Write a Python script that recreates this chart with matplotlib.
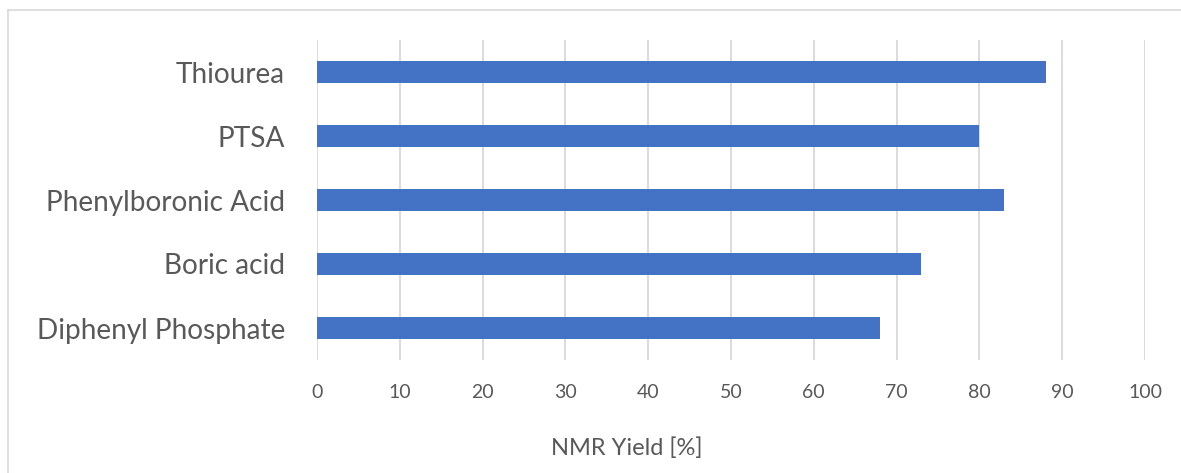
import matplotlib
matplotlib.use("Agg")
import matplotlib.pyplot as plt
from matplotlib.lines import Line2D

categories = ["Diphenyl Phosphate", "Boric acid", "Phenylboronic Acid", "PTSA", "Thiourea"]
yields = [68, 73, 83, 80, 88]
x_ticks = [0, 10, 20, 30, 40, 50, 60, 70, 80, 90, 100]

W, H = 1181, 473
fig = plt.figure(figsize=(W / 100, H / 100), dpi=100)
plt.rcParams["font.family"] = ["Lato", "DejaVu Sans"]

ax = fig.add_axes([317 / W, 1 - 360 / H, (1145 - 317) / W, 320 / H])
ax.barh(range(len(categories)), yields, height=0.34, color="#4472C4", zorder=3)
ax.set_xlim(0, 100)
ax.set_ylim(-0.5, len(categories) - 0.5)
ax.set_xticks(x_ticks)
ax.set_xticklabels([str(t) for t in x_ticks])
ax.set_yticks(range(len(categories)))
ax.set_yticklabels(categories)
ax.grid(axis="x", color="#D9D9D9", linewidth=1.3, zorder=0)
for s in ax.spines.values():
    s.set_visible(False)
ax.tick_params(axis="x", length=0, pad=17, labelsize=14, labelcolor="#595959")
ax.tick_params(axis="y", length=0, pad=23, labelsize=20.2, labelcolor="#595959")

fig.text(627 / W, 1 - 448 / H, "NMR Yield [%]", ha="center", va="center",
         fontsize=17, color="#595959")

# chart-area frame (top and left edges)
fig.add_artist(Line2D([8 / W, 1.0], [1 - 10 / H, 1 - 10 / H], transform=fig.transFigure,
                      color="#D9D9D9", linewidth=1.2))
fig.add_artist(Line2D([8 / W, 8 / W], [0.0, 1 - 10 / H], transform=fig.transFigure,
                      color="#D9D9D9", linewidth=1.2))

fig.savefig("out.png", dpi=100, facecolor="white")
